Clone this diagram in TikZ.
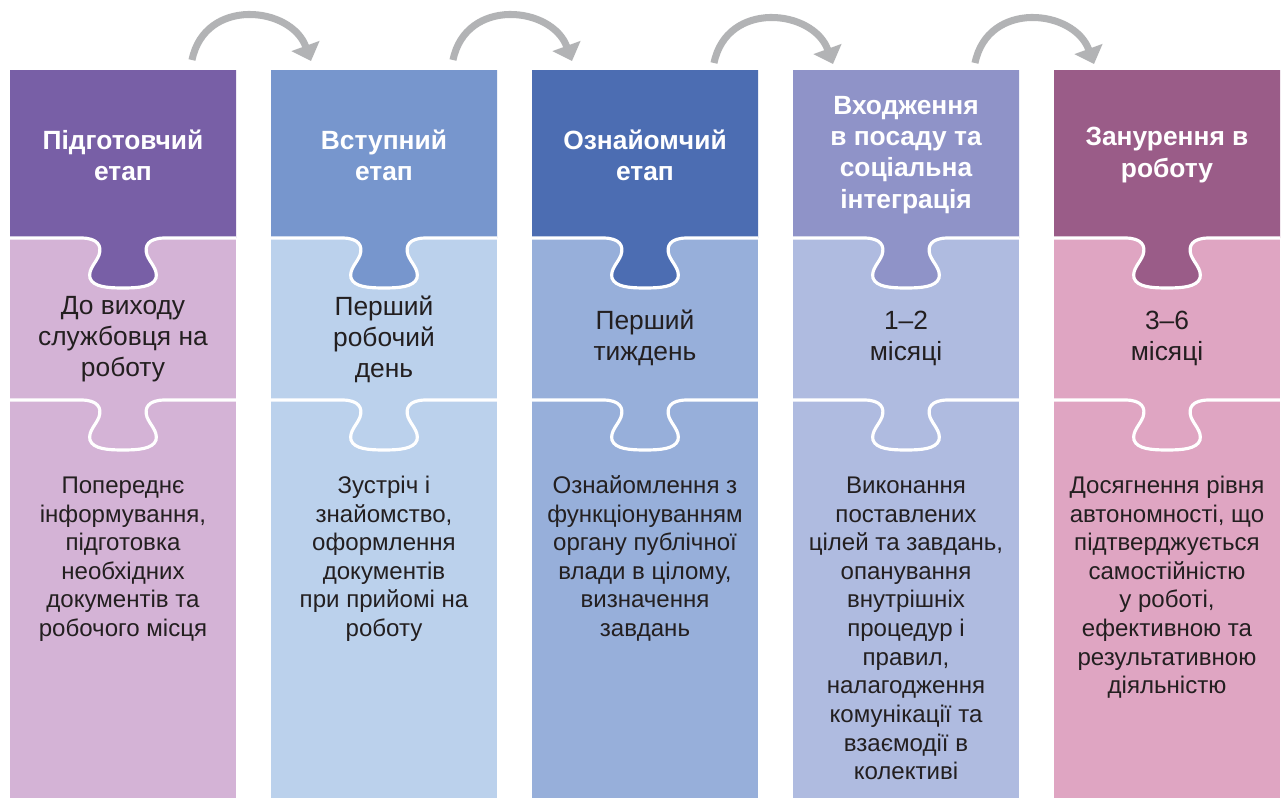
\documentclass[tikz,border=0pt]{standalone}
\usepackage{fontspec}
\setmainfont{Liberation Sans}
\usetikzlibrary{arrows.meta}
\definecolor{hA}{HTML}{785FA6}
\definecolor{bA}{HTML}{D4B3D6}
\definecolor{hB}{HTML}{7796CD}
\definecolor{bB}{HTML}{BBD1EC}
\definecolor{hC}{HTML}{4C6DB2}
\definecolor{bC}{HTML}{97AFDA}
\definecolor{hD}{HTML}{8F93C8}
\definecolor{bD}{HTML}{AFBBE0}
\definecolor{hE}{HTML}{9A5C88}
\definecolor{bE}{HTML}{DFA5C2}
\definecolor{txt}{HTML}{231F20}
\definecolor{arrowgray}{HTML}{B2B3B5}
\newcommand\fl{\rule{0pt}{12pt}}
\begin{document}
\begin{tikzpicture}[x=0.02cm,y=-0.02cm,
  head/.style={text=white, font=\bfseries\fontsize{15}{17.8}\selectfont, align=center, inner sep=0pt},
  mid/.style={text=txt, font=\fontsize{15}{17.6}\selectfont, align=center, inner sep=0pt},
  body/.style={text=txt, font=\fontsize{13.7}{16.3}\selectfont, align=center, inner sep=0pt, anchor=north},
  sep/.style={draw=white, line width=1.8pt},
  flow/.style={draw=arrowgray, line width=4pt, -{Triangle[length=0.32cm,width=0.58cm]}}]
\useasboundingbox[fill=white] (0,0) rectangle (1286,798);
\foreach \i/\hc/\bc in {0/hA/bA,1/hB/bB,2/hC/bC,3/hD/bD,4/hE/bE}{
  \pgfmathsetmacro\xl{10+261*\i}
  \pgfmathsetmacro\xr{\xl+226}
  \pgfmathsetmacro\cx{\xl+113}
  \fill[\bc] (\xl,70) rectangle (\xr,798);
  \fill[\hc] (\xl,70) -- (\xl,238) -- (\cx-42,238)
    .. controls (\cx-25,238) and (\cx-21,246) .. (\cx-24,255)
    .. controls (\cx-27,263) and (\cx-35,269) .. (\cx-33,278)
    .. controls (\cx-30,287) and (\cx-15,288) .. (\cx,288)
    .. controls (\cx+15,288) and (\cx+30,287) .. (\cx+33,278)
    .. controls (\cx+35,269) and (\cx+27,263) .. (\cx+24,255)
    .. controls (\cx+21,246) and (\cx+25,238) .. (\cx+42,238)
    -- (\xr,238) -- (\xr,70) -- cycle;
  \foreach \yy in {238,400}{
    \draw[sep] (\xl,\yy) -- (\cx-42,\yy)
      .. controls (\cx-25,\yy) and (\cx-21,\yy+8) .. (\cx-24,\yy+17)
      .. controls (\cx-27,\yy+25) and (\cx-35,\yy+31) .. (\cx-33,\yy+40)
      .. controls (\cx-30,\yy+49) and (\cx-15,\yy+50) .. (\cx,\yy+50)
      .. controls (\cx+15,\yy+50) and (\cx+30,\yy+49) .. (\cx+33,\yy+40)
      .. controls (\cx+35,\yy+31) and (\cx+27,\yy+25) .. (\cx+24,\yy+17)
      .. controls (\cx+21,\yy+8) and (\cx+25,\yy) .. (\cx+42,\yy)
      -- (\xr,\yy);
  }
}
% headers
\node[head] (h1) at (123,155) {Підготовчий\\етап};
\node[head] (h2) at (384,155) {Вступний\\етап};
\node[head] (h3) at (645,155) {Ознайомчий\\етап};
\node[head] (h4) at (906,155) {Входження\\в посаду та\\соціальна\\інтеграція};
\node[head] (h5) at (1167,155) {Занурення в\\роботу};
% middle
\node[mid] (m1) at (123,339) {До виходу\\службовця на\\роботу};
\node[mid] (m2) at (384,339) {Перший\\робочий\\день};
\node[mid] (m3) at (645,338) {Перший\\тиждень};
\node[mid] (m4) at (906,338) {1–2\\місяці};
\node[mid] (m5) at (1167,338) {3–6\\місяці};
% bottom
\node[body] (d1) at (123,472) {\fl Попереднє\\інформування,\\підготовка\\необхідних\\документів та\\робочого місця};
\node[body] (d2) at (384,472) {\fl Зустріч і\\знайомство,\\оформлення\\документів\\при прийомі на\\роботу};
\node[body] (d3) at (645,472) {\fl Ознайомлення з\\функціонуванням\\органу публічної\\влади в цілому,\\визначення\\завдань};
\node[body] (d4) at (906,472) {\fl Виконання\\поставлених\\цілей та завдань,\\опанування\\внутрішніх\\процедур і\\правил,\\налагодження\\комунікації та\\взаємодії в\\колективі};
\node[body] (d5) at (1167,472) {\fl Досягнення рівня\\автономності, що\\підтверджується\\самостійністю\\у роботі,\\ефективною та\\результативною\\діяльністю};
% arrows
\foreach \k/\dy in {0/0,1/0,2/3,3/3}{
  \coordinate (as\k) at (192+261*\k,60+\dy);
  \coordinate (ae\k) at (311+261*\k,61+\dy);
  \draw[flow] (as\k) .. controls +(13,-63) and +(-20,-55) .. (ae\k);
}
\end{tikzpicture}
\end{document}
